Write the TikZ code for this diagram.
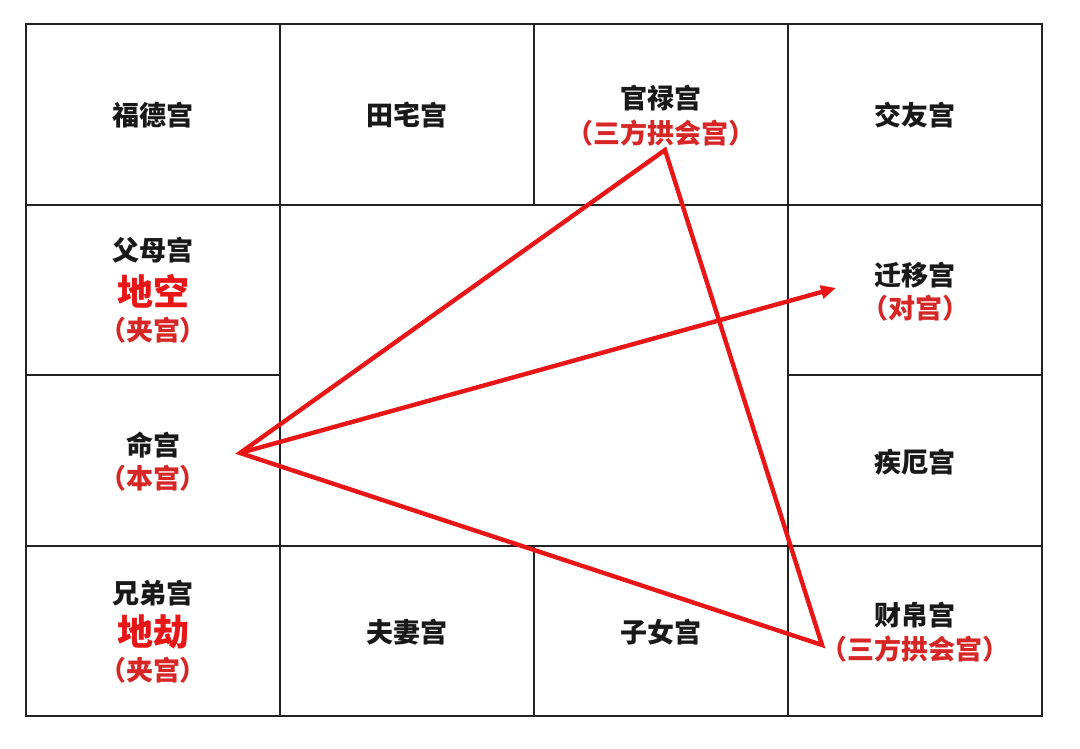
\documentclass[tikz,border=0pt]{standalone}
\usepackage{fontspec}
\usepackage{tikz}
\usetikzlibrary{arrows.meta}
\newfontfamily\cjk{Noto Sans CJK SC}
\definecolor{gridline}{RGB}{34, 34, 34}
\definecolor{chartred}{RGB}{232, 22, 22}
\definecolor{tagred}{RGB}{214, 38, 38}

\begin{document}
\begin{tikzpicture}[x=1pt, y=-1pt,
    cell/.style={draw=gridline, line width=1.8pt},
    palace/.style={font=\cjk\bfseries\fontsize{27}{30}\selectfont, text=black!90, inner sep=0pt},
    star/.style={font=\cjk\bfseries\fontsize{36}{40}\selectfont, text=chartred, inner sep=0pt},
    tag/.style={font=\cjk\bfseries\fontsize{27}{30}\selectfont, text=tagred, inner sep=0pt},
    link/.style={draw=chartred, line width=4.4pt, line join=miter}]
            \useasboundingbox                                             (0, 0) rectangle (1080, 749);
            % grid of the twelve palaces
            \draw[cell]                                                   (26, 24) rectangle (1042, 716);
            \draw[cell]                                                   (26, 205) -- (1042, 205);
            \draw[cell]                                                   (26, 546) -- (1042, 546);
            \draw[cell]                                                   (26, 375) -- (280, 375);
            \draw[cell]                                                   (788, 375) -- (1042, 375);
            \draw[cell]                                                   (280, 24) -- (280, 716);
            \draw[cell]                                                   (788, 24) -- (788, 716);
            \draw[cell]                                                   (534, 24) -- (534, 205);
            \draw[cell]                                                   (534, 546) -- (534, 716);
            % top row
            \node[palace] (fude)     at (153, 115) {福德宫};
            \node[palace] (tianzhai) at (407, 115) {田宅宫};
            \node[palace] (guanlu)   at (661, 98)  {官禄宫};
            \node[tag]    (guanlu-t) at (661, 133) {（三方拱会宫）};
            \node[palace] (jiaoyou)  at (915, 115) {交友宫};
            % left column
            \node[palace] (fumu)     at (153, 250) {父母宫};
            \node[star]   (dikong)   at (153, 291) {地空};
            \node[tag]    (fumu-t)   at (153, 330) {（夹宫）};
            \node[palace] (ming)     at (153, 445) {命宫};
            \node[tag]    (ming-t)   at (153, 478) {（本宫）};
            \node[palace] (xiongdi)  at (153, 593) {兄弟宫};
            \node[star]   (dijie)    at (153, 632) {地劫};
            \node[tag]    (xiongdi-t) at (153, 670) {（夹宫）};
            % right column
            \node[palace] (qianyi)   at (915, 275) {迁移宫};
            \node[tag]    (qianyi-t) at (915, 308) {（对宫）};
            \node[palace] (jie)      at (915, 462) {疾厄宫};
            \node[palace] (caibo)    at (915, 615) {财帛宫};
            \node[tag]    (caibo-t)  at (915, 649) {（三方拱会宫）};
            % bottom row
            \node[palace] (fuqi)     at (407, 632) {夫妻宫};
            \node[palace] (zinv)     at (661, 632) {子女宫};
            % triangle and arrow
            \coordinate (self)   at (240, 453);
            \coordinate (career) at (665, 150);
            \coordinate (wealth) at (822, 645);
            \coordinate (travel) at (836, 288);
            \draw[link] (self) -- (career) -- (wealth) -- cycle;
            \draw[link, -{Triangle[length=15pt, width=13pt]}] (self) -- (travel);
        \end{tikzpicture}
\end{document}
